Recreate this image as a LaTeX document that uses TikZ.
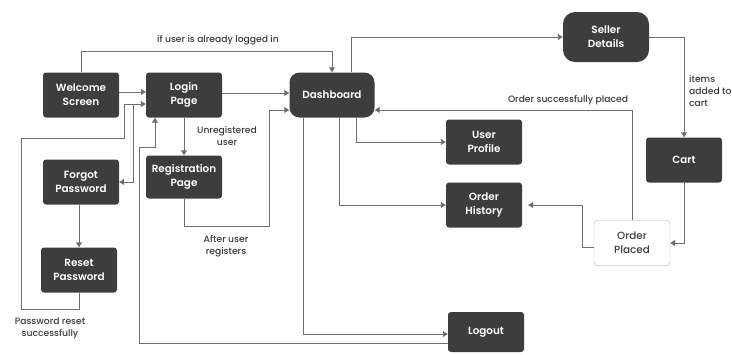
\documentclass[tikz,border=0pt]{standalone}
\usepackage{fontspec}
\setmainfont{Poppins}[BoldFont={Poppins SemiBold}]
\newfontfamily\medfont{Poppins Medium}
\usepackage{tikz}
\usetikzlibrary{arrows.meta}
\definecolor{boxgray}{HTML}{3D3D3D}
\definecolor{linegray}{HTML}{6E6E6E}
\definecolor{labelgray}{HTML}{3A3A3A}

\begin{document}
\begin{tikzpicture}[
  x=1pt, y=-1pt,
  box/.style={fill=boxgray, rounded corners=3pt, text=white, align=center,
    font=\fontsize{10.4}{13.8}\selectfont\bfseries, minimum width=76pt, minimum height=45pt, inner sep=1pt},
  ]
  \tikzset{%
    flow/.style={draw=linegray, line width=0.9pt, -{Triangle[length=5pt,width=6pt]}},
    note/.style={text=labelgray, align=center, font=\fontsize{9.2}{11.8}\selectfont\medfont, inner sep=0pt},
  }
  \useasboundingbox (0,0) rectangle (732,354);
  %Nodes
  \node[box](welcome) at (81,95){Welcome\\Screen};
  \node[box](login) at (184,95){Login\\Page};
  \node[box, minimum width=85pt, rounded corners=10pt](dash) at (332,95){Dashboard};
  \node[box, minimum width=86pt, minimum height=50pt, rounded corners=12pt](seller) at (606,37){Seller\\Details};
  \node[box](cart) at (684,160){Cart};
  \node[box](profile) at (484,142){User\\Profile};
  \node[box](history) at (484,205){Order\\History};
  \node[box, fill=white, draw=linegray!60, text=boxgray, font=\fontsize{10.4}{13.8}\selectfont\medfont](placed) at (632,243){Order\\Placed};
  \node[box, minimum height=40pt](logout) at (486,332){Logout};
  \node[box](forgot) at (81,182){Forgot\\Password};
  \node[box, minimum height=43pt](reg) at (184,177){Registration\\Page};
  \node[box](reset) at (79,270){Reset\\Password};
  \coordinate (split) at (133,104);
  %Labels
  \node[note](lbllogged) at (218,40){if user is already logged in};
  \node[note](lblunreg) at (227,136){Unregistered\\user};
  \node[note](lblafter) at (226,246){After user\\registers};
  \node[note](lblreset) at (50,328){Password reset\\successfully};
  \node[note](lblplaced) at (568,100){Order successfully placed};
  \node[note, align=left, anchor=west](lblcart) at (689,91){items\\added to\\cart};
  %Lines
  \draw[flow] (welcome.north) -- ++(0,-21) -| (dash.north);
  \draw[flow] ([yshift=3pt]welcome.east) -- ([yshift=3pt]login.west);
  \draw[flow] ([yshift=2pt]login.east) -- ([yshift=2pt]dash.west);
  \draw[flow] (login.south) -- (reg.north);
  \draw[flow] (reset.south) -- ++(0,17) -| (21,138) -| (124,104) -- ([yshift=-9pt]login.west);
  \draw[flow] (split) |- (forgot.east);
  \draw[flow] (forgot.south -| reset.north) -- (reset.north);
  \draw[flow] (reg.south) |- (269,226) |- ([yshift=-15pt]dash.west);
  \draw[flow] ([yshift=-11pt]logout.west) -| (139,147) -| ([xshift=-29pt]login.south);
  \draw[flow] ([xshift=-29pt]dash.south) |- ([yshift=-2pt]logout.west);
  \draw[flow] ([xshift=7pt]dash.south) |- (history.west);
  \draw[flow] ([xshift=24pt]dash.south) |- (profile.west);
  \draw[flow] ([xshift=19pt]dash.north) |- (seller.west);
  \draw[flow] (seller.east) -| (cart.north);
  \draw[flow] (cart.south) |- (placed.east);
  \draw[flow] (placed.north) |- ([yshift=-15pt]dash.east);
  \draw[flow, shorten >=6pt] ([yshift=-4pt]placed.west) -- ++(-11,0) |- (history.east);
\end{tikzpicture}
\end{document}
